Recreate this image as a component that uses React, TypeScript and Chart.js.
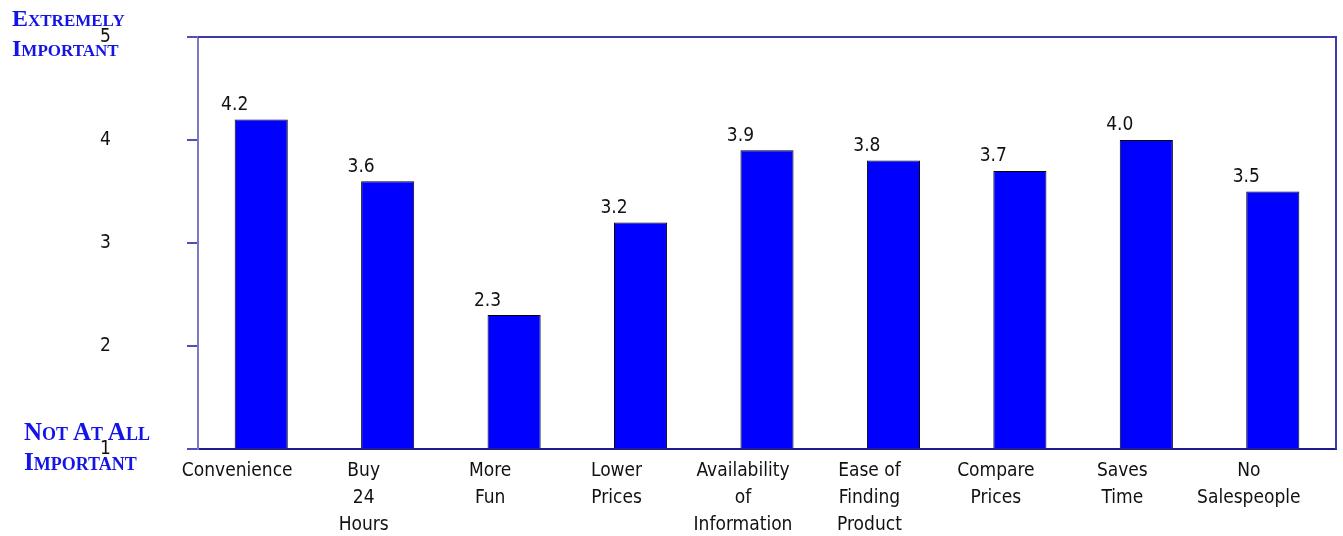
import React, { useEffect, useRef } from "react";
import { Chart, registerables } from "chart.js";

Chart.register(...registerables);

const categories: string[][] = [
  ["Convenience"],
  ["Buy", "24", "Hours"],
  ["More", "Fun"],
  ["Lower", "Prices"],
  ["Availability", "of", "Information"],
  ["Ease of", "Finding", "Product"],
  ["Compare", "Prices"],
  ["Saves", "Time"],
  ["No", "Salespeople"],
];
const ratings: number[] = [4.2, 3.6, 2.3, 3.2, 3.9, 3.8, 3.7, 4.0, 3.5];
const yMin = 1;
const yMax = 5;
const topCaption = ["Extremely", "Important"];
const bottomCaption = ["Not At All", "Important"];

const FONT = "'DejaVu Sans Condensed', 'Liberation Sans Narrow', sans-serif";

const valueLabels = {
  id: "valueLabels",
  afterDatasetsDraw(chart: any) {
    const ctx = chart.ctx;
    const meta = chart.getDatasetMeta(0);
    ctx.save();
    ctx.font = `19px ${FONT}`;
    ctx.fillStyle = "#111";
    ctx.textAlign = "center";
    ctx.textBaseline = "bottom";
    meta.data.forEach((bar: any, i: number) => {
      ctx.fillText(ratings[i].toFixed(1), bar.x - bar.width / 2, bar.y - 5);
    });
    ctx.restore();
  },
};

const frame = {
  id: "frame",
  afterDraw(chart: any) {
    const { ctx, chartArea } = chart;
    ctx.save();
    ctx.lineWidth = 2;
    ctx.strokeStyle = "#3a3aaa";
    ctx.beginPath();
    ctx.moveTo(chartArea.left, chartArea.top);
    ctx.lineTo(chartArea.right, chartArea.top);
    ctx.lineTo(chartArea.right, chartArea.bottom);
    ctx.stroke();
    ctx.restore();
  },
};

function SmallCaps({ lines, size, style }: { lines: string[]; size: number; style: React.CSSProperties }) {
  return (
    <div
      style={{
        position: "absolute",
        fontFamily: "'Liberation Serif', 'Times New Roman', serif",
        fontWeight: "bold",
        fontVariant: "small-caps",
        color: "#1414e6",
        fontSize: `${size}px`,
        lineHeight: "30px",
        whiteSpace: "nowrap",
        ...style,
      }}
    >
      {lines.map((l, i) => (
        <div key={i}>{l}</div>
      ))}
    </div>
  );
}

export default function App() {
  const ref = useRef<HTMLCanvasElement>(null);
  useEffect(() => {
    document.body.style.margin = "0";
    const chart = new Chart(ref.current!, {
      type: "bar",
      data: {
        labels: categories,
        datasets: [
          {
            data: ratings,
            backgroundColor: "#0000ff",
            borderColor: "#000000",
            borderWidth: 1,
            barPercentage: 0.84,
            categoryPercentage: 0.5,
            base: yMin,
          },
        ],
      },
      options: {
        animation: false,
        responsive: false,
        maintainAspectRatio: false,
        layout: { padding: { top: 37, right: 7, left: 100, bottom: 0 } },
        plugins: {
          legend: { display: false },
          tooltip: { enabled: false },
        },
        scales: {
          x: {
            grid: { display: false, drawTicks: false },
            border: { display: true, color: "#1c1c8c", width: 2 },
            ticks: {
              color: "#111",
              font: { family: FONT, size: 19, lineHeight: 1.42 },
              padding: 9,
              labelOffset: -24,
              maxRotation: 0,
              autoSkip: false,
            },
            afterFit(scale: any) {
              scale.height = 87;
            },
          },
          y: {
            min: yMin,
            max: yMax,
            grid: {
              drawOnChartArea: false,
              drawTicks: true,
              tickLength: 11,
              color: "#5050b4",
              lineWidth: 2,
            },
            border: { display: true, color: "#7a7ac2", width: 2 },
            ticks: {
              stepSize: 1,
              color: "#111",
              font: { family: FONT, size: 19 },
              padding: 0,
              crossAlign: "far",
            },
            afterFit(scale: any) {
              scale.width = 98;
            },
          },
        },
      },
      plugins: [valueLabels, frame],
    });
    return () => chart.destroy();
  }, []);
  return (
    <div style={{ position: "relative", width: 1343, height: 536 }}>
      <canvas ref={ref} width={1343} height={536} style={{ display: "block" }} />
      <SmallCaps lines={topCaption} size={24} style={{ left: 12, top: 3 }} />
      <SmallCaps lines={bottomCaption} size={25} style={{ left: 24, top: 417 }} />
    </div>
  );
}
